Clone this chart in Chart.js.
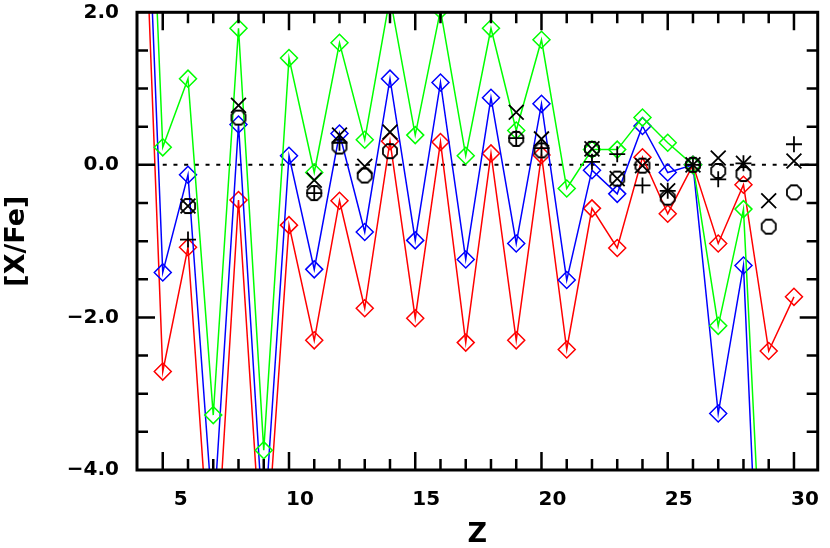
<!DOCTYPE html>
<html>
<head>
<meta charset="utf-8">
<title>[X/Fe] vs Z</title>
<script src="https://cdn.jsdelivr.net/npm/chart.js@4.4.0/dist/chart.umd.min.js"></script>
<style>
  html, body { margin: 0; padding: 0; background: #fff; }
  canvas { display: block; }
</style>
</head>
<body>
<canvas id="abundChart" width="830" height="548"></canvas>
<script>
// Atomic numbers for the model curves
const modelZ = [4, 5, 6, 7, 8, 9, 10, 11, 12, 13, 14, 15, 16, 17, 18, 19, 20, 21, 22, 23, 24, 25, 26, 27, 28, 29, 30];

// Model [X/Fe] (red / blue / green curves with diamonds)
const redModel = [6.0, -2.71, -1.08, -5.9, -0.46, -5.6, -0.79, -2.30, -0.47, -1.88, 0.31, -2.01, 0.30, -2.33, 0.15, -2.30, 0.13, -2.42, -0.57, -1.09, 0.10, -0.64, 0.0, -1.03, -0.26, -2.44, -1.73];
const blueModel = [6.9, -1.41, -0.13, -4.7, 0.53, -4.85, 0.12, -1.37, 0.41, -0.88, 1.13, -0.99, 1.08, -1.24, 0.88, -1.03, 0.80, -1.51, -0.07, -0.38, 0.51, -0.10, 0.0, -3.26, -1.32, -8.9];
const greenModel = [8.3, 0.23, 1.13, -3.28, 1.79, -3.74, 1.40, -0.10, 1.60, 0.33, 2.2, 0.39, 2.03, 0.12, 1.79, 0.45, 1.64, -0.31, 0.20, 0.20, 0.62, 0.29, 0.0, -2.11, -0.58, -7.3];

// Observed abundances (black symbols)
const crossZ = [6, 8, 11, 12, 13, 14, 19, 20, 22, 23, 24, 25, 26, 27, 28, 29, 30];
const crossVals = [-0.54, 0.78, -0.20, 0.39, -0.02, 0.43, 0.69, 0.34, 0.21, -0.18, -0.01, -0.34, 0.0, 0.09, 0.02, -0.47, 0.05];
const plusZ = [6, 11, 12, 19, 20, 22, 23, 24, 25, 26, 27, 28, 30];
const plusVals = [-0.98, -0.37, 0.29, 0.35, 0.22, 0.04, 0.14, -0.27, -0.34, 0.0, -0.19, 0.02, 0.27];
const circZ = [6, 8, 11, 12, 13, 14, 19, 20, 22, 23, 24, 25, 26, 27, 28, 29, 30];
const circVals = [-0.54, 0.62, -0.37, 0.24, -0.14, 0.18, 0.34, 0.19, 0.21, -0.18, -0.01, -0.43, 0.0, -0.08, -0.12, -0.81, -0.36];

// Dotted solar line
const zeroZ = [5, 31];
const zeroVals = [0, 0];

// Tick labels
const xTickLabels = [5, 10, 15, 20, 25, 30];
const yTickLabels = [-4, -2, 0, 2];

const toPoints = (zs, vals) => vals.map((v, i) => ({ x: zs[i], y: v }));

// octagon marker (IDL psym 'O')
const makeOctagon = () => {
    const c = document.createElement('canvas');
    c.width = 20;
    c.height = 20;
    const g = c.getContext('2d');
    g.strokeStyle = '#000';
    g.lineWidth = 1.8;
    g.beginPath();
    for (let k = 0; k < 8; k++) {
        const a = Math.PI / 8 + k * Math.PI / 4;
        const px = 10 + 7.6 * Math.cos(a);
        const py = 10 + 7.6 * Math.sin(a);
        if (k === 0) g.moveTo(px, py); else g.lineTo(px, py);
    }
    g.closePath();
    g.stroke();
    return c;
};

// Frame and inward ticks like an IDL plot
const frameTicks = {
    id: 'frameTicks',
    afterDatasetsDraw(chart) {
        const { ctx, chartArea: a, scales: { x, y } } = chart;
        ctx.save();
        ctx.strokeStyle = '#000';
        ctx.lineWidth = 2.5;
        ctx.beginPath();
        for (let z = 5; z <= 30; z++) {
            const px = x.getPixelForValue(z);
            const len = z % 5 === 0 ? 18 : 11;
            ctx.moveTo(px, a.bottom);
            ctx.lineTo(px, a.bottom - len);
            ctx.moveTo(px, a.top);
            ctx.lineTo(px, a.top + len);
        }
        for (let v = -3.5; v < 2; v += 0.5) {
            const py = y.getPixelForValue(v);
            const len = v % 2 === 0 ? 18 : 11;
            ctx.moveTo(a.left, py);
            ctx.lineTo(a.left + len, py);
            ctx.moveTo(a.right, py);
            ctx.lineTo(a.right - len, py);
        }
        ctx.stroke();
        ctx.lineWidth = 3;
        ctx.strokeRect(a.left, a.top, a.right - a.left, a.bottom - a.top);
        ctx.restore();
    }
};

const lineSet = (label, zs, vals, color, order) => ({
    label: label,
    data: toPoints(zs, vals),
    borderColor: color,
    backgroundColor: 'rgba(0,0,0,0)',
    borderWidth: 1.5,
    pointStyle: 'rectRot',
    pointRadius: 8.5,
    pointBorderWidth: 1.5,
    pointBorderColor: color,
    pointBackgroundColor: 'rgba(0,0,0,0)',
    showLine: true,
    order: order
});

const markSet = (label, zs, vals, style, radius) => ({
    label: label,
    data: toPoints(zs, vals),
    showLine: false,
    pointStyle: style,
    pointRadius: radius,
    pointBorderWidth: 1.8,
    pointBorderColor: '#000',
    pointBackgroundColor: 'rgba(0,0,0,0)',
    order: 0
});

const ctx = document.getElementById('abundChart').getContext('2d');
const tickFont = { family: 'DejaVu Sans', size: 20, weight: 'bold' };
const titleFont = { family: 'DejaVu Sans', size: 27, weight: 'bold', lineHeight: 1 };

new Chart(ctx, {
    type: 'line',
    data: {
        datasets: [
            markSet('obs x', crossZ, crossVals, 'crossRot', 10.5),
            markSet('obs +', plusZ, plusVals, 'cross', 8),
            markSet('obs o', circZ, circVals, makeOctagon(), 8),
            lineSet('green', modelZ, greenModel, '#00ff00', 1),
            lineSet('blue', modelZ, blueModel, '#0000ff', 2),
            lineSet('red', modelZ, redModel, '#ff0000', 3),
            {
                label: 'solar',
                data: toPoints(zeroZ, zeroVals),
                borderColor: '#000',
                borderWidth: 2,
                borderDash: [4, 6.7],
                pointRadius: 0,
                showLine: true,
                order: 4
            }
        ]
    },
    options: {
        responsive: false,
        animation: false,
        layout: { padding: { top: 11, right: 6, left: 0, bottom: 0 } },
        plugins: {
            legend: { display: false },
            tooltip: { enabled: false }
        },
        scales: {
            x: {
                type: 'linear',
                min: 3.98,
                max: 30.94,
                grid: { display: false, drawTicks: false },
                border: { display: false },
                afterBuildTicks: axis => { axis.ticks = xTickLabels.map(v => ({ value: v })); },
                afterFit: axis => {
                    axis.height = 78;
                    axis.paddingLeft = 0;
                    axis.paddingRight = 0;
                },
                ticks: {
                    font: tickFont,
                    color: '#000',
                    padding: 18,
                    labelOffset: 11,
                    maxRotation: 0,
                    autoSkip: false,
                    callback: v => (v < 10 ? '\u2007' : '') + v
                },
                title: {
                    display: true,
                    text: 'Z',
                    font: titleFont,
                    color: '#000',
                    padding: { top: 0, bottom: 0 }
                }
            },
            y: {
                min: -4,
                max: 2,
                grid: { display: false, drawTicks: false },
                border: { display: false },
                afterBuildTicks: axis => { axis.ticks = yTickLabels.map(v => ({ value: v })); },
                afterFit: axis => {
                    axis.width = 137;
                    axis.paddingTop = 0;
                    axis.paddingBottom = 0;
                },
                ticks: {
                    font: tickFont,
                    color: '#000',
                    padding: 18,
                    autoSkip: false,
                    callback: v => (v < 0 ? '\u2212' : '') + Math.abs(v).toFixed(1)
                },
                title: {
                    display: true,
                    text: '[X/Fe]',
                    font: titleFont,
                    color: '#000',
                    padding: { top: 3, bottom: 0 }
                }
            }
        }
    },
    plugins: [frameTicks]
});
</script>
</body>
</html>
